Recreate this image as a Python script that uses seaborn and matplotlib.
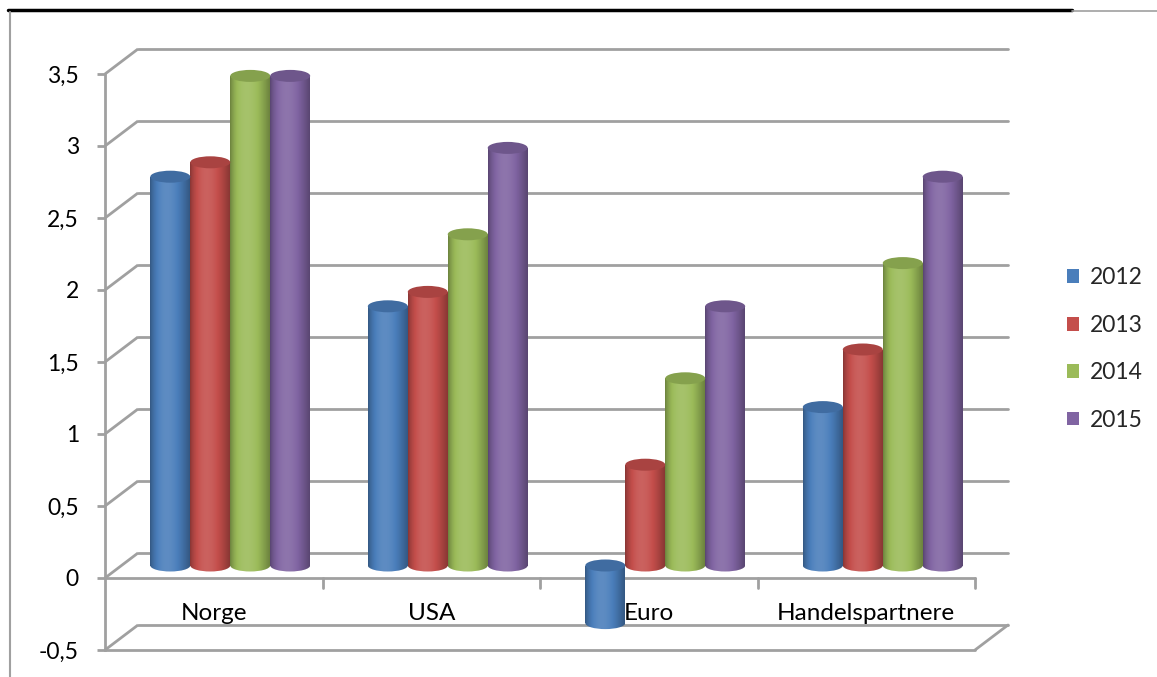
import numpy as np
import pandas as pd
import matplotlib
matplotlib.use("Agg")
import matplotlib.pyplot as plt
import seaborn as sns
from matplotlib.patches import Ellipse
from matplotlib.lines import Line2D
from matplotlib.colors import to_rgb

# ---------------- data ----------------
categories = ["Norge", "USA", "Euro", "Handelspartnere"]
years = ["2012", "2013", "2014", "2015"]
v2012 = [2.7, 1.8, -0.4, 1.1]
v2013 = [2.8, 1.9, 0.7, 1.5]
v2014 = [3.4, 2.3, 1.3, 2.1]
v2015 = [3.4, 2.9, 1.8, 2.7]
yticks = [-0.5, 0, 0.5, 1, 1.5, 2, 2.5, 3, 3.5]
ytick_labels = ["-0,5", "0", "0,5", "1", "1,5", "2", "2,5", "3", "3,5"]
colors = ["#4A7EBB", "#C44E4B", "#9BBB59", "#8064A2"]

rows = []
for yr, vals in zip(years, [v2012, v2013, v2014, v2015]):
    for c, v in zip(categories, vals):
        rows.append({"Kategori": c, "År": yr, "Verdi": v})
df = pd.DataFrame(rows)

# ---------------- style ----------------
sns.set_theme(style="white")
plt.rcParams["font.family"] = ["Lato", "DejaVu Sans"]
GRID = "#A0A0A0"
LW = 2.0

W, H = 1157, 677
fig = plt.figure(figsize=(W / 100, H / 100), dpi=100)
fig.patch.set_facecolor("white")

PW, PH = 870, 576          # plot-plane size in pixels
DX, DY = 33, 25            # depth offset (pixels) between front and back planes
FL, FB = 105, 650          # front plane left / bottom (pixels from top-left)


def plane(left, bottom):
    return [left / W, 1 - bottom / H, PW / W, PH / H]


XLIM = (-0.5, len(categories) - 0.5)
YLIM = (yticks[0], yticks[-1])

back_ax = fig.add_axes(plane(FL + DX, FB - DY))
front_ax = fig.add_axes(plane(FL, FB))
bar_ax = fig.add_axes(plane(FL + DX / 2, FB - DY / 2))
for a in (back_ax, front_ax, bar_ax):
    a.set_xlim(*XLIM)
    a.set_ylim(*YLIM)
    a.patch.set_alpha(0)
    for s in a.spines.values():
        s.set_visible(False)
back_ax.set_axis_off()

# back wall gridlines
for t in yticks:
    back_ax.axhline(t, color=GRID, lw=LW, clip_on=False)

# depth offsets in front data units
dxu = DX / (PW / (XLIM[1] - XLIM[0]))
dyu = DY / (PH / (YLIM[1] - YLIM[0]))

# front vertical axis + ticks
front_ax.spines["left"].set_visible(True)
front_ax.spines["left"].set_color(GRID)
front_ax.spines["left"].set_linewidth(LW)
front_ax.set_yticks(yticks, ytick_labels)
front_ax.set_xticks([])
front_ax.tick_params(axis="y", left=True, length=5.8, width=LW, color=GRID,
                     direction="out", pad=13, labelsize=16.5, labelcolor="black")
for t in yticks:
    front_ax.plot([XLIM[0], XLIM[0] + dxu], [t, t + dyu], color=GRID, lw=LW,
                  clip_on=False, solid_capstyle="butt")

# floor (0 plane front edge) and bottom (-0.5 plane)
front_ax.plot(list(XLIM), [0, 0], color=GRID, lw=LW, clip_on=False)
for b in np.arange(XLIM[0] + 1, XLIM[1] + 0.01, 1.0):
    front_ax.plot([b, b], [0, -0.07], color=GRID, lw=LW, clip_on=False)
front_ax.plot(list(XLIM), [YLIM[0], YLIM[0]], color=GRID, lw=LW, clip_on=False)
front_ax.plot([XLIM[1], XLIM[1] + dxu], [YLIM[0], YLIM[0] + dyu], color=GRID,
              lw=LW, clip_on=False)

# ---------------- bars ----------------
sns.barplot(data=df, x="Kategori", y="Verdi", hue="År", palette=colors,
            width=0.735, saturation=1, ax=bar_ax, errorbar=None,
            edgecolor="none", linewidth=0)
bar_ax.set_xlim(*XLIM)
bar_ax.set_ylim(*YLIM)
bar_ax.set_axis_off()

handles, labels = bar_ax.get_legend_handles_labels()
if bar_ax.get_legend() is not None:
    bar_ax.get_legend().remove()

bars = [p for p in bar_ax.patches
        if np.isfinite(p.get_height()) and p.get_width() > 0 and p.get_height() != 0]
bars.sort(key=lambda p: p.get_x())

u = np.linspace(0, 1, 64)
shade = 0.70 + 0.42 * np.sin(np.pi * u ** 0.8)


def shaded(rgb):
    rgb = np.array(rgb)
    out = []
    for f in shade:
        if f <= 1:
            out.append(rgb * f)
        else:
            out.append(rgb + (1 - rgb) * (f - 1) * 0.9)
    return np.clip(np.array(out), 0, 1)[None, :, :]


EH = 12 / (PH / (YLIM[1] - YLIM[0]))   # ellipse height in data units
for p in bars:
    rgb = to_rgb(p.get_facecolor()[:3])
    x0, w = p.get_x(), p.get_width()
    y0, h = p.get_y(), p.get_height()
    lo, hi = min(y0, y0 + h), max(y0, y0 + h)
    img = shaded(rgb)
    p.set_visible(False)
    body = bar_ax.imshow(img, extent=(x0, x0 + w, lo, hi), aspect="auto",
                         interpolation="bilinear", zorder=2)
    body.set_clip_path(p)
    bot = Ellipse((x0 + w / 2, lo), w, EH, transform=bar_ax.transData,
                  facecolor="none", edgecolor="none")
    bar_ax.add_patch(bot)
    bimg = bar_ax.imshow(img, extent=(x0, x0 + w, lo - EH, lo), aspect="auto",
                         interpolation="bilinear", zorder=2)
    bimg.set_clip_path(bot)
    cap_rgb = np.array(rgb) * 0.86
    bar_ax.add_patch(Ellipse((x0 + w / 2, hi), w, EH, facecolor=cap_rgb,
                             edgecolor="none", zorder=3))

bar_ax.set_xlim(*XLIM)
bar_ax.set_ylim(*YLIM)

# category labels (drawn above bars)
for i, c in enumerate(categories):
    fig.text(i, (0 + YLIM[0]) / 2, c, transform=front_ax.transData,
             ha="center", va="center", fontsize=17.5, color="black", zorder=5)

# legend
fig.legend(handles, labels, loc="center left",
           bbox_to_anchor=(1046 / W, 1 - 349 / H), frameon=False,
           handlelength=0.55, handleheight=0.55, handletextpad=0.45,
           labelspacing=1.15, fontsize=16.5)

# outer frame lines
fig.add_artist(Line2D([8 / W, 1072 / W], [1 - 10 / H, 1 - 10 / H],
                      color="black", lw=2.5))
fig.add_artist(Line2D([1072 / W, 1.0], [1 - 11 / H, 1 - 11 / H],
                      color="#A0A0A0", lw=1.2))
fig.add_artist(Line2D([10 / W, 10 / W], [0, 1 - 12 / H],
                      color="#A0A0A0", lw=1.5))

fig.savefig("out.png", dpi=100, facecolor="white")
